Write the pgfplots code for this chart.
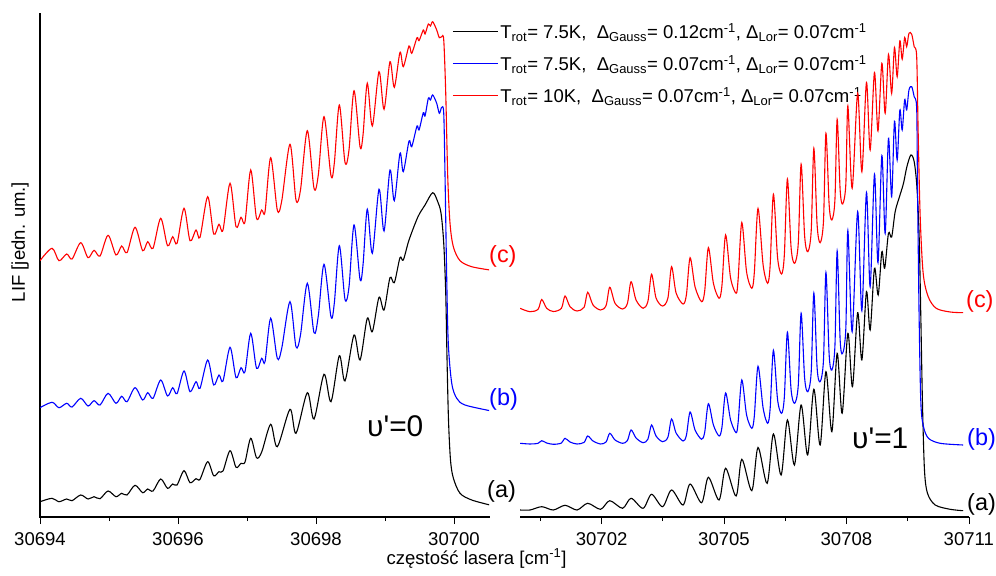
\documentclass[border=0pt]{standalone}
\usepackage{fontspec}
\setmainfont{Liberation Sans}
\usepackage{pgfplots}
\pgfplotsset{compat=1.18}
\usepackage{pgfplotstable}

% left panel (v'=0)
\pgfplotstableread{
x y
30694.000 15.3
30694.174 18.7
30694.275 15.3
30694.387 18.0
30694.464 16.3
30694.590 22.0
30694.696 18.0
30694.783 20.3
30694.870 18.3
30694.986 26.0
30695.101 20.3
30695.184 23.7
30695.261 22.0
30695.377 31.7
30695.488 24.3
30695.561 28.0
30695.638 26.0
30695.749 38.0
30695.848 28.7
30695.923 33.0
30695.986 32.0
30696.087 46.3
30696.174 34.3
30696.261 38.3
30696.319 37.7
30696.430 55.3
30696.517 41.3
30696.594 45.3
30696.652 46.0
30696.754 66.3
30696.841 49.7
30696.913 53.7
30696.971 55.0
30697.054 78.7
30697.138 59.3
30697.213 65.0
30697.343 92.7
30697.439 70.3
30697.623 107.7
30697.710 83.7
30697.874 124.3
30697.971 98.0
30698.116 142.7
30698.217 115.3
30698.338 161.3
30698.420 136.0
30698.551 182.0
30698.638 157.0
30698.743 198.7
30698.816 185.3
30698.913 219.7
30698.986 207.0
30699.072 239.3
30699.135 234.3
30699.217 259.3
30699.265 257.0
30699.348 277.0
30699.478 300.3
30699.580 312.0
30699.691 324.3
30699.764 315.3
30699.812 303.7
30699.851 273.7
30699.880 223.7
30699.899 157.0
30699.920 97.0
30699.949 57.0
30699.990 39.0
30700.087 23.7
30700.257 17.0
30700.522 12.0
}\LA
\pgfplotstableread{
x y
30694.000 109.3
30694.174 114.7
30694.275 109.3
30694.387 113.7
30694.464 110.0
30694.590 118.7
30694.696 111.0
30694.783 116.3
30694.870 112.0
30694.986 123.7
30695.101 113.7
30695.184 120.7
30695.261 115.3
30695.377 129.3
30695.488 117.0
30695.561 124.3
30695.638 118.7
30695.749 137.0
30695.848 121.0
30695.923 129.3
30695.986 123.3
30696.087 146.0
30696.174 125.3
30696.261 135.3
30696.319 128.7
30696.430 157.0
30696.517 132.0
30696.594 142.0
30696.652 136.0
30696.754 169.7
30696.841 139.3
30696.913 149.3
30696.971 145.3
30697.054 183.7
30697.138 148.7
30697.213 158.7
30697.261 155.3
30697.343 198.7
30697.439 158.7
30697.503 168.7
30697.623 215.3
30697.710 170.3
30697.775 182.0
30697.874 233.7
30697.971 184.3
30698.033 201.0
30698.116 252.7
30698.217 200.3
30698.265 213.7
30698.338 271.3
30698.420 217.7
30698.478 230.0
30698.551 292.0
30698.638 237.7
30698.681 252.0
30698.743 307.7
30698.816 263.7
30698.913 327.7
30698.986 286.0
30699.072 347.0
30699.135 316.3
30699.217 363.7
30699.265 345.3
30699.348 376.0
30699.387 370.3
30699.464 391.0
30699.493 387.0
30699.555 404.3
30699.580 401.0
30699.628 418.7
30699.659 417.0
30699.691 422.0
30699.749 413.7
30699.787 403.7
30699.822 409.7
30699.851 403.7
30699.870 340.3
30699.894 240.3
30699.917 173.7
30699.967 133.7
30700.039 118.7
30700.159 112.0
30700.522 106.3
}\LB
\pgfplotstableread{
x y
30694.000 256.3
30694.174 268.7
30694.275 256.3
30694.387 263.0
30694.464 258.0
30694.590 274.3
30694.696 259.3
30694.783 266.7
30694.870 261.0
30694.986 281.7
30695.101 262.0
30695.184 271.0
30695.261 264.3
30695.377 289.7
30695.488 266.3
30695.561 275.3
30695.638 268.7
30695.749 298.7
30695.848 271.3
30695.923 280.3
30695.986 273.7
30696.087 308.7
30696.174 276.3
30696.261 287.0
30696.319 279.7
30696.430 320.3
30696.517 283.0
30696.594 292.7
30696.652 287.0
30696.754 333.7
30696.841 290.3
30696.913 299.7
30696.971 295.3
30697.054 347.0
30697.138 298.7
30697.213 307.0
30697.261 305.3
30697.343 359.3
30697.439 307.0
30697.503 316.0
30697.623 372.7
30697.710 317.0
30697.775 327.0
30697.874 386.3
30697.971 328.7
30698.033 342.0
30698.116 400.3
30698.217 341.3
30698.265 353.7
30698.338 412.0
30698.420 354.7
30698.478 367.0
30698.551 426.3
30698.638 370.3
30698.681 382.0
30698.743 433.7
30698.816 391.0
30698.913 445.3
30698.986 407.7
30699.072 455.3
30699.135 429.7
30699.217 464.7
30699.265 450.3
30699.348 471.0
30699.387 463.7
30699.464 479.3
30699.493 476.3
30699.555 487.0
30699.580 483.0
30699.628 493.0
30699.659 491.0
30699.691 495.3
30699.749 487.0
30699.787 479.3
30699.822 480.3
30699.851 477.0
30699.880 423.7
30699.909 340.3
30699.942 293.7
30699.990 270.3
30700.087 256.3
30700.257 250.3
30700.522 247.0
}\LC
% right panel (v'=1)
\pgfplotstableread{
x y
30700.000 7.0
30700.245 7.0
30700.532 10.3
30700.816 7.0
30701.103 11.7
30701.397 7.0
30701.659 13.7
30701.973 7.7
30702.199 16.3
30702.512 8.7
30702.721 18.7
30703.015 8.7
30703.223 22.7
30703.493 10.3
30703.713 27.0
30703.995 12.0
30704.167 33.0
30704.449 14.3
30704.615 39.7
30704.877 17.0
30705.037 48.7
30705.294 21.0
30705.434 57.7
30705.679 26.3
30705.831 69.5
30706.054 33.7
30706.208 83.0
30706.397 42.0
30706.551 97.0
30706.723 52.0
30706.887 112.0
30707.047 62.0
30707.199 127.7
30707.353 72.0
30707.495 145.3
30707.640 85.3
30707.770 163.7
30707.892 103.7
30708.032 183.7
30708.145 130.3
30708.272 204.3
30708.375 157.0
30708.488 225.3
30708.578 187.0
30708.684 248.7
30708.775 222.0
30708.865 265.3
30708.934 248.7
30709.027 283.7
30709.105 280.0
30709.191 305.3
30709.297 320.3
30709.395 333.7
30709.478 350.3
30709.576 362.0
30709.657 355.3
30709.723 330.3
30709.779 280.3
30709.821 197.0
30709.860 113.7
30709.909 47.0
30709.983 23.7
30710.172 12.0
30710.539 7.7
30710.858 6.3
}\RA
\pgfplotstableread{
x y
30700.000 73.7
30700.245 73.0
30700.442 73.7
30700.532 76.3
30700.654 74.0
30700.816 72.7
30701.013 73.9
30701.103 78.7
30701.225 75.0
30701.397 73.0
30701.569 74.6
30701.659 81.0
30701.789 76.0
30701.973 73.0
30702.109 75.1
30702.199 83.7
30702.328 77.0
30702.512 73.7
30702.631 76.4
30702.721 87.0
30702.843 79.0
30703.015 74.3
30703.133 77.8
30703.223 92.0
30703.333 81.0
30703.493 75.3
30703.623 79.8
30703.713 98.0
30703.824 84.0
30703.995 76.0
30704.077 81.8
30704.167 105.0
30704.289 87.0
30704.449 77.7
30704.525 84.8
30704.615 113.3
30704.738 92.0
30704.877 81.0
30704.947 89.6
30705.037 124.0
30705.159 97.0
30705.294 84.3
30705.344 94.8
30705.434 137.0
30705.551 102.0
30705.679 88.7
30705.741 101.1
30705.831 150.7
30705.956 109.0
30706.066 93.7
30706.128 108.3
30706.208 166.7
30706.311 117.0
30706.409 103.7
30706.476 119.9
30706.551 184.8
30706.642 127.0
30706.728 113.7
30706.817 131.7
30706.887 203.7
30706.973 139.0
30707.051 125.3
30707.134 145.0
30707.199 224.0
30707.279 149.0
30707.353 135.3
30707.435 157.1
30707.495 244.5
30707.574 162.0
30707.640 147.0
30707.715 170.8
30707.770 266.0
30707.843 177.0
30707.904 163.7
30707.982 188.3
30708.032 286.5
30708.137 185.3
30708.272 305.3
30708.375 206.3
30708.488 324.5
30708.578 230.3
30708.684 342.8
30708.770 254.3
30708.865 361.5
30708.946 283.7
30709.027 378.5
30709.105 320.3
30709.174 395.7
30709.240 357.0
30709.306 407.0
30709.363 387.0
30709.424 417.3
30709.473 407.0
30709.529 427.0
30709.596 430.3
30709.657 420.3
30709.718 408.7
30709.738 330.3
30709.779 197.0
30709.821 113.7
30709.885 90.3
30710.007 78.7
30710.294 73.7
30710.858 72.0
}\RB
\pgfplotstableread{
x y
30700.000 208.7
30700.245 205.3
30700.442 207.7
30700.532 217.5
30700.654 208.7
30700.816 205.5
30701.013 208.6
30701.103 221.0
30701.225 210.3
30701.397 206.0
30701.569 209.7
30701.659 224.7
30701.789 212.0
30701.973 207.0
30702.109 211.5
30702.199 229.7
30702.328 213.7
30702.512 208.0
30702.631 213.5
30702.721 235.3
30702.843 217.0
30703.015 208.7
30703.133 215.5
30703.223 242.7
30703.333 219.0
30703.493 211.0
30703.623 218.9
30703.713 250.3
30703.824 224.0
30703.995 213.0
30704.077 222.3
30704.167 259.3
30704.289 230.0
30704.449 215.3
30704.525 226.1
30704.615 269.3
30704.738 233.7
30704.877 218.7
30704.947 231.4
30705.037 282.0
30705.159 239.0
30705.294 223.7
30705.344 237.9
30705.434 294.5
30705.551 245.0
30705.679 228.7
30705.741 244.7
30705.831 308.5
30705.956 252.0
30706.066 233.7
30706.128 251.5
30706.208 322.8
30706.311 259.0
30706.409 243.0
30706.476 262.0
30706.551 338.0
30706.642 269.0
30706.728 253.7
30706.817 273.5
30706.887 352.8
30706.973 281.0
30707.051 265.3
30707.134 286.0
30707.199 368.7
30707.279 292.0
30707.353 274.3
30707.435 296.0
30707.495 383.7
30707.574 312.0
30707.640 297.0
30707.715 317.0
30707.770 397.7
30707.843 327.0
30707.904 313.0
30707.982 332.6
30708.032 411.0
30708.137 328.7
30708.272 423.7
30708.375 345.3
30708.488 434.5
30708.578 367.0
30708.684 444.5
30708.770 386.0
30708.865 453.7
30708.946 403.7
30709.027 462.5
30709.105 423.7
30709.174 469.5
30709.240 440.3
30709.306 476.2
30709.363 457.7
30709.424 479.5
30709.473 470.3
30709.529 483.7
30709.596 482.7
30709.657 470.3
30709.718 460.3
30709.755 383.7
30709.804 300.3
30709.877 243.7
30710.000 220.3
30710.196 208.7
30710.539 205.0
30710.858 204.3
}\RC

\pgfplotsset{
  spec/.style={line width=1.1bp, smooth, tension=0.5},
  panel/.style={
    scale only axis, width=449bp, height=503bp,
    ymin=0, ymax=503,
    axis line style={draw=none},
    xtick pos=left, ytick pos=left,
    xtick align=outside, ytick align=inside,
    major tick length=7bp, minor tick length=4bp,
    tick style={line width=1bp, black},
    xtick scale label code/.code={},
    xticklabels=\empty,
    clip mode=individual,
  },
}

\begin{document}
\begin{tikzpicture}
\useasboundingbox (0,0) rectangle (996bp,576bp);
\begin{axis}[panel,
  at={(40bp,59bp)}, anchor=south west,
  xmin=30694, xmax=30700.507,
  xtick={30694,30696,30698,30700},
  minor xtick={30695,30697,30699},
  ytick=\empty,
  minor ytick={12.3,33.8,55.4,76.9,98.4,120.0,141.5,163.0,184.5,206.1,227.6,249.1,270.7,292.2,313.7,335.3,356.8,378.3,399.8,421.4,442.9,464.4,486.0},
  legend cell align=left,
  legend image code/.code={\draw[#1] (0bp,0bp) -- (45bp,0bp);},
  legend style={draw=none, fill=none, at={(0.9176,0.9855)}, anchor=north west,
    font=\fontsize{18.6}{20}\selectfont, row sep=11.3bp, inner sep=0pt,
    nodes={inner sep=2bp}},
]
\draw[line width=1.1bp, line cap=rect] (rel axis cs:0,1) -- (rel axis cs:0,0) -- (rel axis cs:1,0);
\addplot[spec, black] table {\LA};
\addlegendentry{T\textsubscript{rot}= 7.5K,\ \ Δ\textsubscript{Gauss}= 0.12cm\textsuperscript{-1}, Δ\textsubscript{Lor}= 0.07cm\textsuperscript{-1}}
\addplot[spec, blue] table {\LB};
\addlegendentry{T\textsubscript{rot}= 7.5K,\ \ Δ\textsubscript{Gauss}= 0.07cm\textsuperscript{-1}, Δ\textsubscript{Lor}= 0.07cm\textsuperscript{-1}}
\addplot[spec, red] table {\LC};
\addlegendentry{T\textsubscript{rot}= 10K,\ \ Δ\textsubscript{Gauss}= 0.07cm\textsuperscript{-1}, Δ\textsubscript{Lor}= 0.07cm\textsuperscript{-1}}
\end{axis}
\begin{axis}[panel,
  at={(520bp,59bp)}, anchor=south west,
  xmin=30700, xmax=30711,
  xtick={30702,30705,30708,30711},
  minor xtick={30700.5,30703.5,30706.5,30709.5},
  ytick=\empty,
]
\draw[line width=1.1bp] (rel axis cs:0,0) -- (rel axis cs:1,0);
\addplot[spec, black] table {\RA};
\addplot[spec, blue] table {\RB};
\addplot[spec, red] table {\RC};
\end{axis}
% tick labels
\begin{scope}[every node/.style={anchor=base, inner sep=0pt, font=\fontsize{18.6}{20}\selectfont}]
\node at (40bp,31bp) {30694};
\node at (178bp,31bp) {30696};
\node at (316bp,31bp) {30698};
\node at (454bp,31bp) {30700};
\node at (601.6bp,31bp) {30702};
\node at (724bp,31bp) {30705};
\node at (846.4bp,31bp) {30708};
\node at (968.8bp,31bp) {30711};
\end{scope}
% labels
\node[anchor=base west, inner sep=0pt, font=\fontsize{30}{32}\selectfont] at (367bp,139bp) {υ\textquotesingle=0};
\node[anchor=base west, inner sep=0pt, font=\fontsize{30}{32}\selectfont] at (852bp,127bp) {υ\textquotesingle=1};
\node[anchor=west, inner sep=0pt, red, font=\fontsize{23.5}{25}\selectfont] at (489bp,320bp) {(c)};
\node[anchor=west, inner sep=0pt, blue, font=\fontsize{23.5}{25}\selectfont] at (489bp,177bp) {(b)};
\node[anchor=west, inner sep=0pt, black, font=\fontsize{23.5}{25}\selectfont] at (487bp,85bp) {(a)};
\node[anchor=west, inner sep=0pt, red, font=\fontsize{23.5}{25}\selectfont] at (966bp,275bp) {(c)};
\node[anchor=west, inner sep=0pt, blue, font=\fontsize{23.5}{25}\selectfont] at (967bp,137bp) {(b)};
\node[anchor=west, inner sep=0pt, black, font=\fontsize{23.5}{25}\selectfont] at (967bp,72bp) {(a)};
\node[anchor=base, inner sep=0pt, font=\fontsize{18.6}{20}\selectfont] at (476.5bp,12bp) {częstość lasera [cm\textsuperscript{-1}]};
\node[rotate=90, inner sep=0pt, font=\fontsize{18.6}{20}\selectfont] at (20bp,334bp) {LIF [jedn. um.]};
\end{tikzpicture}
\end{document}
